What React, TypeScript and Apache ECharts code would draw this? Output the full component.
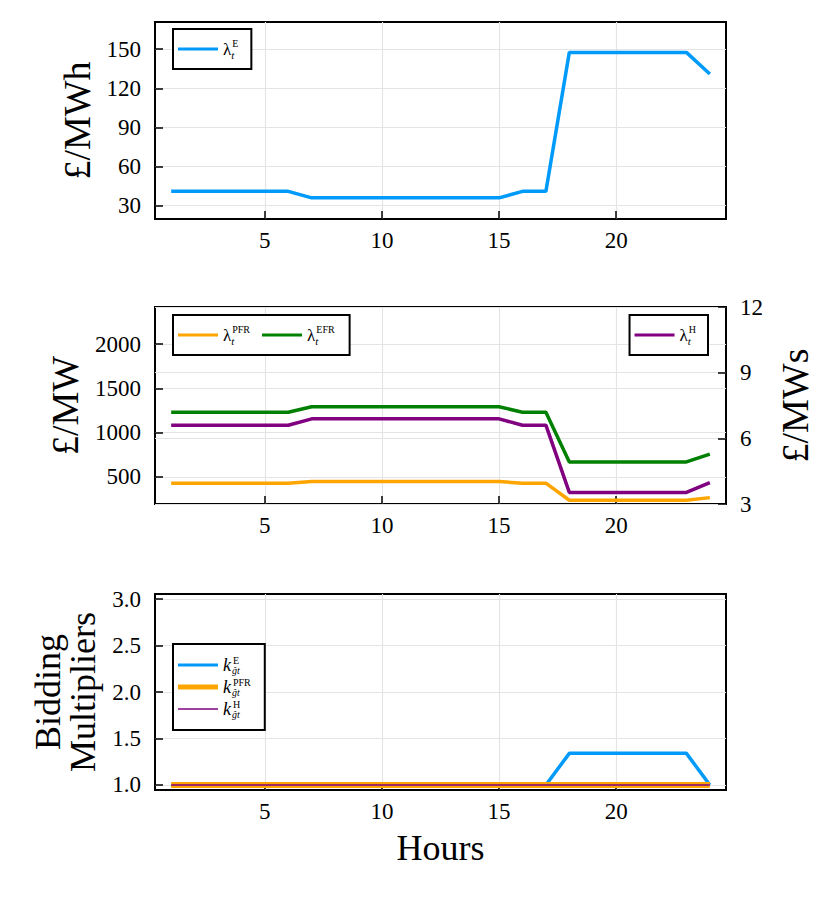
import React, { useEffect, useRef } from "react";
import * as echarts from "echarts";

// ---------- data ----------
const hours = [1, 2, 3, 4, 5, 6, 7, 8, 9, 10, 11, 12, 13, 14, 15, 16, 17, 18, 19, 20, 21, 22, 23, 24];

const priceE = [41, 41, 41, 41, 41, 41, 36, 36, 36, 36, 36, 36, 36, 36, 36, 41, 41, 147.5, 147.5, 147.5, 147.5, 147.5, 147.5, 131];

const pricePFR = [430, 430, 430, 430, 430, 430, 448, 448, 448, 448, 448, 448, 448, 448, 448, 430, 430, 237, 237, 237, 237, 237, 237, 267];
const priceEFR = [1231, 1231, 1231, 1231, 1231, 1231, 1292, 1292, 1292, 1292, 1292, 1292, 1292, 1292, 1292, 1231, 1231, 670, 670, 670, 670, 670, 670, 757];
const priceH = [6.6, 6.6, 6.6, 6.6, 6.6, 6.6, 6.89, 6.89, 6.89, 6.89, 6.89, 6.89, 6.89, 6.89, 6.89, 6.6, 6.6, 3.53, 3.53, 3.53, 3.53, 3.53, 3.53, 3.98];

const kE = [1, 1, 1, 1, 1, 1, 1, 1, 1, 1, 1, 1, 1, 1, 1, 1, 1, 1.34, 1.34, 1.34, 1.34, 1.34, 1.34, 1];
const kPFR = [1, 1, 1, 1, 1, 1, 1, 1, 1, 1, 1, 1, 1, 1, 1, 1, 1, 1, 1, 1, 1, 1, 1, 1];
const kH = [1, 1, 1, 1, 1, 1, 1, 1, 1, 1, 1, 1, 1, 1, 1, 1, 1, 1, 1, 1, 1, 1, 1, 1];

const xTicks = [5, 10, 15, 20];
const yTicksTop = [30, 60, 90, 120, 150];
const yTicksMidLeft = [500, 1000, 1500, 2000];
const yTicksMidRight = [3, 6, 9, 12];
const yTicksBottom = [1.0, 1.5, 2.0, 2.5, 3.0];

// ---------- style ----------
const FONT = "'Liberation Serif', 'DejaVu Serif', serif";
const BLUE = "#009AFA";
const ORANGE = "#FFA500";
const GREEN = "#008000";
const PURPLE = "#800080";
const GRIDC = "#e4e4e4";

const legendLabels: Record<string, string> = {
  E: "{l|λ}{sb|t}{sp|E}",
  PFR: "{l|λ}{sb|t}{sp|PFR}",
  EFR: "{l|λ}{sb|t}{sp|EFR}",
  H: "{l|λ}{sb|t}{sp|H}",
  kE: "{k|k}{sb2|ĝt}{sq|E}",
  kPFR: "{k|k}{sb2|ĝt}{sq|PFR}",
  kH: "{k|k}{sb2|ĝt}{sq|H}",
};

const rich = {
  l: { fontFamily: FONT, fontSize: 17, lineHeight: 22, color: "#000" },
  k: { fontFamily: FONT, fontSize: 18, fontStyle: "italic", lineHeight: 20, color: "#000" },
  sb: { fontFamily: FONT, fontSize: 11, fontStyle: "italic", lineHeight: 10, verticalAlign: "bottom", width: 0, color: "#000" },
  sp: { fontFamily: FONT, fontSize: 10, lineHeight: 8, verticalAlign: "top", color: "#000", padding: [0, 0, 0, 1] },
  sb2: { fontFamily: FONT, fontSize: 10, fontStyle: "italic", lineHeight: 10, verticalAlign: "bottom", width: 0, color: "#000", padding: [0, 0, 0, 1] },
  sq: { fontFamily: FONT, fontSize: 10, lineHeight: 10, verticalAlign: "top", color: "#000", padding: [0, 0, 0, 1] },
};

const tickRich = { t: { fontFamily: FONT, fontSize: 23, color: "#000" } };

const pairs = (ys: number[]) => hours.map((h, i) => [h, ys[i]]);

const tickFont = { fontFamily: FONT, fontSize: 23, color: "#000", fontWeight: "normal", rich: tickRich };
const titleFont = { fontFamily: FONT, fontSize: 38, color: "#000" };

const LINE_ICON = (t: number) => `path://M0,0H40V${t}H0Z`;
const fmtInt = (v: number) => `{t|${v}}`;
const fmtDec = (v: number) => `{t|${v.toFixed(1)}}`;

function mkX(gi: number, extra: any = {}) {
  return {
    type: "value",
    gridIndex: gi,
    min: 0.31,
    max: 24.69,
    axisLine: { show: false },
    axisTick: { show: true, inside: true, length: 8, lineStyle: { color: "#000", width: 1.5 }, customValues: xTicks },
    axisLabel: { ...tickFont, margin: 10, customValues: xTicks, formatter: fmtInt },
    splitLine: { show: true, lineStyle: { color: GRIDC, width: 1.2 } },
    ...extra,
  };
}

function mkY(gi: number, min: number, max: number, ticks: number[], extra: any = {}) {
  return {
    type: "value",
    gridIndex: gi,
    min,
    max,
    axisLine: { show: false },
    axisTick: { show: true, inside: true, length: 8, lineStyle: { color: "#000", width: 1.5 }, customValues: ticks },
    axisLabel: { ...tickFont, margin: 14, customValues: ticks, formatter: fmtInt },
    splitLine: { show: true, lineStyle: { color: GRIDC, width: 1.2 } },
    nameLocation: "middle",
    nameTextStyle: { ...titleFont },
    ...extra,
  };
}

const legendCommon = {
  borderColor: "#000",
  borderWidth: 2,
  borderRadius: 0,
  backgroundColor: "#fff",
  itemWidth: 40,
  itemHeight: 14,
  selectedMode: false,
  textStyle: { rich, color: "#000", fontFamily: FONT },
  formatter: (n: string) => legendLabels[n],
};

export default function App() {
  const ref = useRef<HTMLDivElement>(null);

  useEffect(() => {
    if (!ref.current) return;
    const chart = echarts.init(ref.current, null, { renderer: "svg" });
    const option: any = {
      animation: false,
      backgroundColor: "#fff",
      textStyle: { fontFamily: FONT },
      grid: [
        { left: 155, top: 22, width: 571, height: 197, show: true, borderColor: "#000", borderWidth: 2, backgroundColor: "transparent" },
        { left: 155, top: 307, width: 571, height: 197, show: true, borderColor: "#000", borderWidth: 2, backgroundColor: "transparent" },
        { left: 155, top: 594, width: 571, height: 196, show: true, borderColor: "#000", borderWidth: 2, backgroundColor: "transparent" },
      ],
      xAxis: [
        mkX(0),
        mkX(1),
        mkX(2, { name: "Hours", nameLocation: "middle", nameGap: 40, nameTextStyle: { ...titleFont, fontSize: 36 } }),
      ],
      yAxis: [
        mkY(0, 19.8, 170.8, yTicksTop, { name: "£/MWh", nameGap: 58 }),
        mkY(1, 195, 2418, yTicksMidLeft, { name: "£/MW", nameGap: 70 }),
        mkY(1, 3, 12, yTicksMidRight, {
          position: "right",
          name: "£/MWs",
          nameGap: 50,
        }),
        mkY(2, 0.946, 3.054, yTicksBottom, {
          name: "Bidding\nMultipliers",
          nameGap: 55,
          nameTextStyle: { ...titleFont, fontSize: 36, lineHeight: 35 },
          axisLabel: { ...tickFont, margin: 14, customValues: yTicksBottom, formatter: fmtDec },
        }),
      ],
      legend: [
        { ...legendCommon, data: [{ name: "E", icon: LINE_ICON(3) }], left: 173, top: 29, padding: [9, 13, 9, 5] },
        {
          ...legendCommon,
          data: [{ name: "PFR", icon: LINE_ICON(3) }, { name: "EFR", icon: LINE_ICON(3) }],
          left: 173,
          top: 315,
          itemGap: 12,
          padding: [9, 15, 9, 5],
        },
        { ...legendCommon, data: [{ name: "H", icon: LINE_ICON(3) }], right: 122, top: 315, padding: [9, 12, 9, 5] },
        {
          ...legendCommon,
          orient: "vertical",
          data: [
            { name: "kE", icon: LINE_ICON(3) },
            { name: "kPFR", icon: LINE_ICON(5) },
            { name: "kH", icon: LINE_ICON(1.5) },
          ],
          left: 173,
          top: 644,
          itemGap: 2,
          padding: [11, 14, 11, 5],
        },
      ],
      series: [
        { type: "line", name: "E", xAxisIndex: 0, yAxisIndex: 0, data: pairs(priceE), symbol: "none", color: BLUE, lineStyle: { color: BLUE, width: 3.5 } },
        { type: "line", name: "PFR", xAxisIndex: 1, yAxisIndex: 1, data: pairs(pricePFR), symbol: "none", color: ORANGE, lineStyle: { color: ORANGE, width: 3.5 } },
        { type: "line", name: "EFR", xAxisIndex: 1, yAxisIndex: 1, data: pairs(priceEFR), symbol: "none", color: GREEN, lineStyle: { color: GREEN, width: 3.5 } },
        { type: "line", name: "H", xAxisIndex: 1, yAxisIndex: 2, data: pairs(priceH), symbol: "none", color: PURPLE, lineStyle: { color: PURPLE, width: 3.5 } },
        { type: "line", name: "kE", xAxisIndex: 2, yAxisIndex: 3, data: pairs(kE), symbol: "none", color: BLUE, lineStyle: { color: BLUE, width: 3.5 } },
        { type: "line", name: "kPFR", xAxisIndex: 2, yAxisIndex: 3, data: pairs(kPFR), symbol: "none", color: ORANGE, lineStyle: { color: ORANGE, width: 6 } },
        { type: "line", name: "kH", xAxisIndex: 2, yAxisIndex: 3, data: pairs(kH), symbol: "none", color: PURPLE, lineStyle: { color: PURPLE, width: 1.5 } },
      ],
    };
    chart.setOption(option);
    return () => chart.dispose();
  }, []);

  return (
    <div
      ref={ref}
      style={{ position: "fixed", left: 0, top: 0, width: 830, height: 900, background: "#fff" }}
    />
  );
}
